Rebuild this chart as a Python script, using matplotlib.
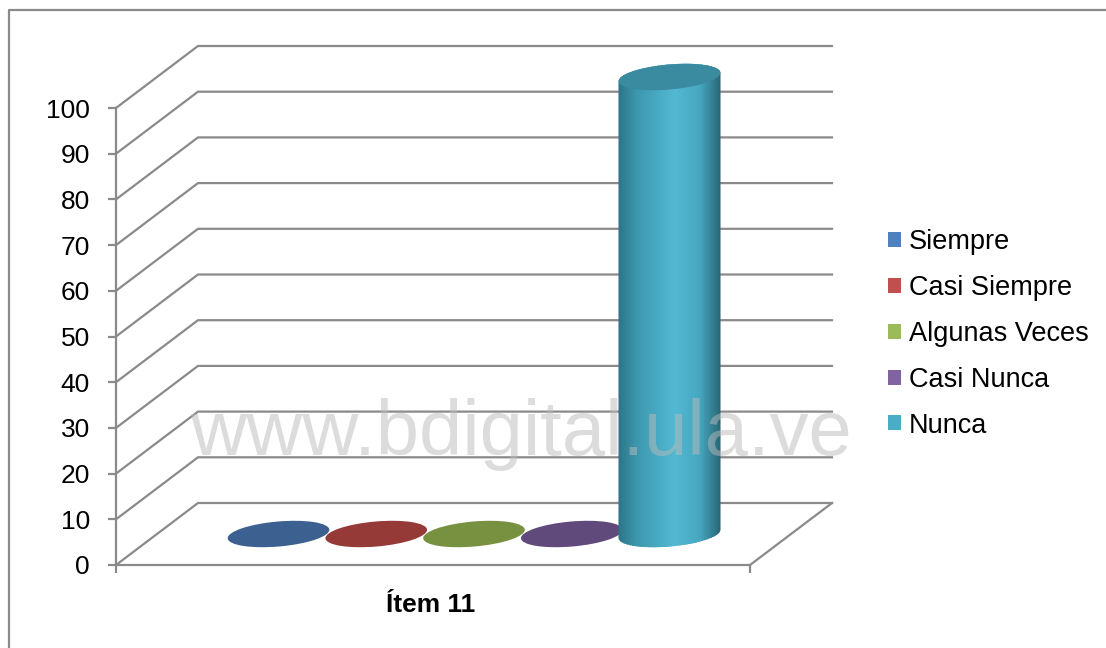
import matplotlib
matplotlib.use('Agg')
import numpy as np
import matplotlib.pyplot as plt
from matplotlib.patches import Ellipse, Rectangle, Polygon
from matplotlib.collections import PatchCollection
from matplotlib.lines import Line2D
from matplotlib.transforms import IdentityTransform
from matplotlib.colors import LinearSegmentedColormap

# ---- data ----
series = ['Siempre', 'Casi Siempre', 'Algunas Veces', 'Casi Nunca', 'Nunca']
values = [0, 0, 0, 0, 100]
category = 'Ítem 11'
yticks = list(range(0, 101, 10))
colors = ['#4F81BD', '#C0504D', '#9BBB59', '#8064A2', '#4BACC6']
cap_colors = ['#3c6190', '#953a37', '#779140', '#604a7b', '#3a8aa0']
watermark = 'www.bdigital.ula.ve'

plt.rcParams['font.family'] = ['Liberation Sans', 'DejaVu Sans']

W, H = 1106, 648
fig = plt.figure(figsize=(W / 100, H / 100), dpi=100)
ax = fig.add_axes([116 / W, (H - 565) / H, (750 - 116) / W, (565 - 108) / H])
ax.set_ylim(0, 100)
ax.set_xlim(-1.243, 5.243)
ax.patch.set_visible(False)
gc = '#8a8a8a'
for s in ['top', 'right']:
    ax.spines[s].set_visible(False)
for s in ['left', 'bottom']:
    ax.spines[s].set_color(gc)
    ax.spines[s].set_linewidth(1.6)
ax.set_yticks(yticks)
ax.tick_params(axis='y', length=5.8, width=1.6, color=gc, pad=13, labelsize=19)
ax.set_xticks(list(ax.get_xlim()))
ax.set_xticklabels([])
ax.tick_params(axis='x', length=5.8, width=1.6, color=gc)
ax.text(0.497, -(605 - 565) / 457, category, transform=ax.transAxes, ha='center',
        va='center', fontsize=19, fontweight='bold')

DX, DY = 82, 62  # depth offset in display pixels
x0, x1 = ax.get_xlim()
ident = IdentityTransform()

# gridlines on side + back wall
for v in yticks:
    fx, fy = ax.transData.transform((x0, v))
    ex = ax.transData.transform((x1, v))[0] + DX
    ax.add_line(Line2D([fx, fx + DX, ex], [fy, fy + DY, fy + DY], transform=ident,
                       color=gc, lw=1.6, clip_on=False, zorder=1))
# floor right edge
rx, ry = ax.transData.transform((x1, 0))
ax.add_line(Line2D([rx, rx + DX], [ry, ry + DY], transform=ident, color=gc,
                   lw=1.6, clip_on=False, zorder=1))

# cylinders
EW, EH, ANG = 102, 25, 5
a, b = EW / 2, EH / 2
th = np.deg2rad(ANG)
R = np.array([[np.cos(th), -np.sin(th)], [np.sin(th), np.cos(th)]])
cmap = LinearSegmentedColormap.from_list('cyl', [(0, '#2c7588'), (0.18, '#3c97ae'),
                                                 (0.55, '#52b8d2'), (0.8, '#46a6bf'),
                                                 (1, '#286777')])


def ell_pts(c, t):
    p = np.vstack([a * np.cos(t), b * np.sin(t)])
    return (R @ p).T + c


for i, v in enumerate(values):
    c0 = ax.transData.transform((i, 0)) + np.array([DX / 2, DY / 2])
    c1 = ax.transData.transform((i, v)) + np.array([DX / 2, DY / 2])
    z = 3 + i
    if v > 0:
        bot = ell_pts(c0, np.linspace(np.pi, 2 * np.pi, 80))
        top = ell_pts(c1, np.linspace(0, np.pi, 80))
        body = Polygon(np.vstack([bot, top]), closed=True, transform=ident)
        n = 140
        xs = np.linspace(c0[0] - a - 2, c0[0] + a + 2, n + 1)
        rects = [Rectangle((xs[k], c0[1] - b - 10), xs[k + 1] - xs[k] + 0.6,
                           c1[1] - c0[1] + 2 * b + 20) for k in range(n)]
        frac = np.clip((0.5 * (xs[:-1] + xs[1:]) - (c0[0] - a)) / EW, 0, 1)
        pc = PatchCollection(rects, transform=ident, facecolors=cmap(frac),
                             edgecolors='none', zorder=z, clip_on=True)
        pc.set_clip_path(body)
        ax.add_collection(pc)
    cap = Ellipse(tuple(c1), EW, EH, angle=ANG, transform=ident,
                  fc=cap_colors[i], ec='none', zorder=z + 0.5, clip_on=False)
    ax.add_patch(cap)

# legend
handles = [Rectangle((0, 0), 1, 1, fc=c, ec='none') for c in colors]
fig.legend(handles, series, loc='center left', bbox_to_anchor=(888 / W, 1 - 334 / H),
           frameon=False, fontsize=19.5, handlelength=0.48, handleheight=0.48,
           handletextpad=0.28, labelspacing=0.73, borderpad=0, borderaxespad=0)

# watermark
fig.text(521 / W, 1 - 455 / H, watermark, ha='center', va='baseline', fontsize=56,
         color='#bbbbbb', alpha=0.5, zorder=10)

# outer frame
fig.add_artist(Line2D([8.5 / W, 8.5 / W, 1], [0, 1 - 10 / H, 1 - 10 / H],
                      transform=fig.transFigure, color='#8a8a8a', lw=1.6))

fig.savefig('out.png', dpi=100)
